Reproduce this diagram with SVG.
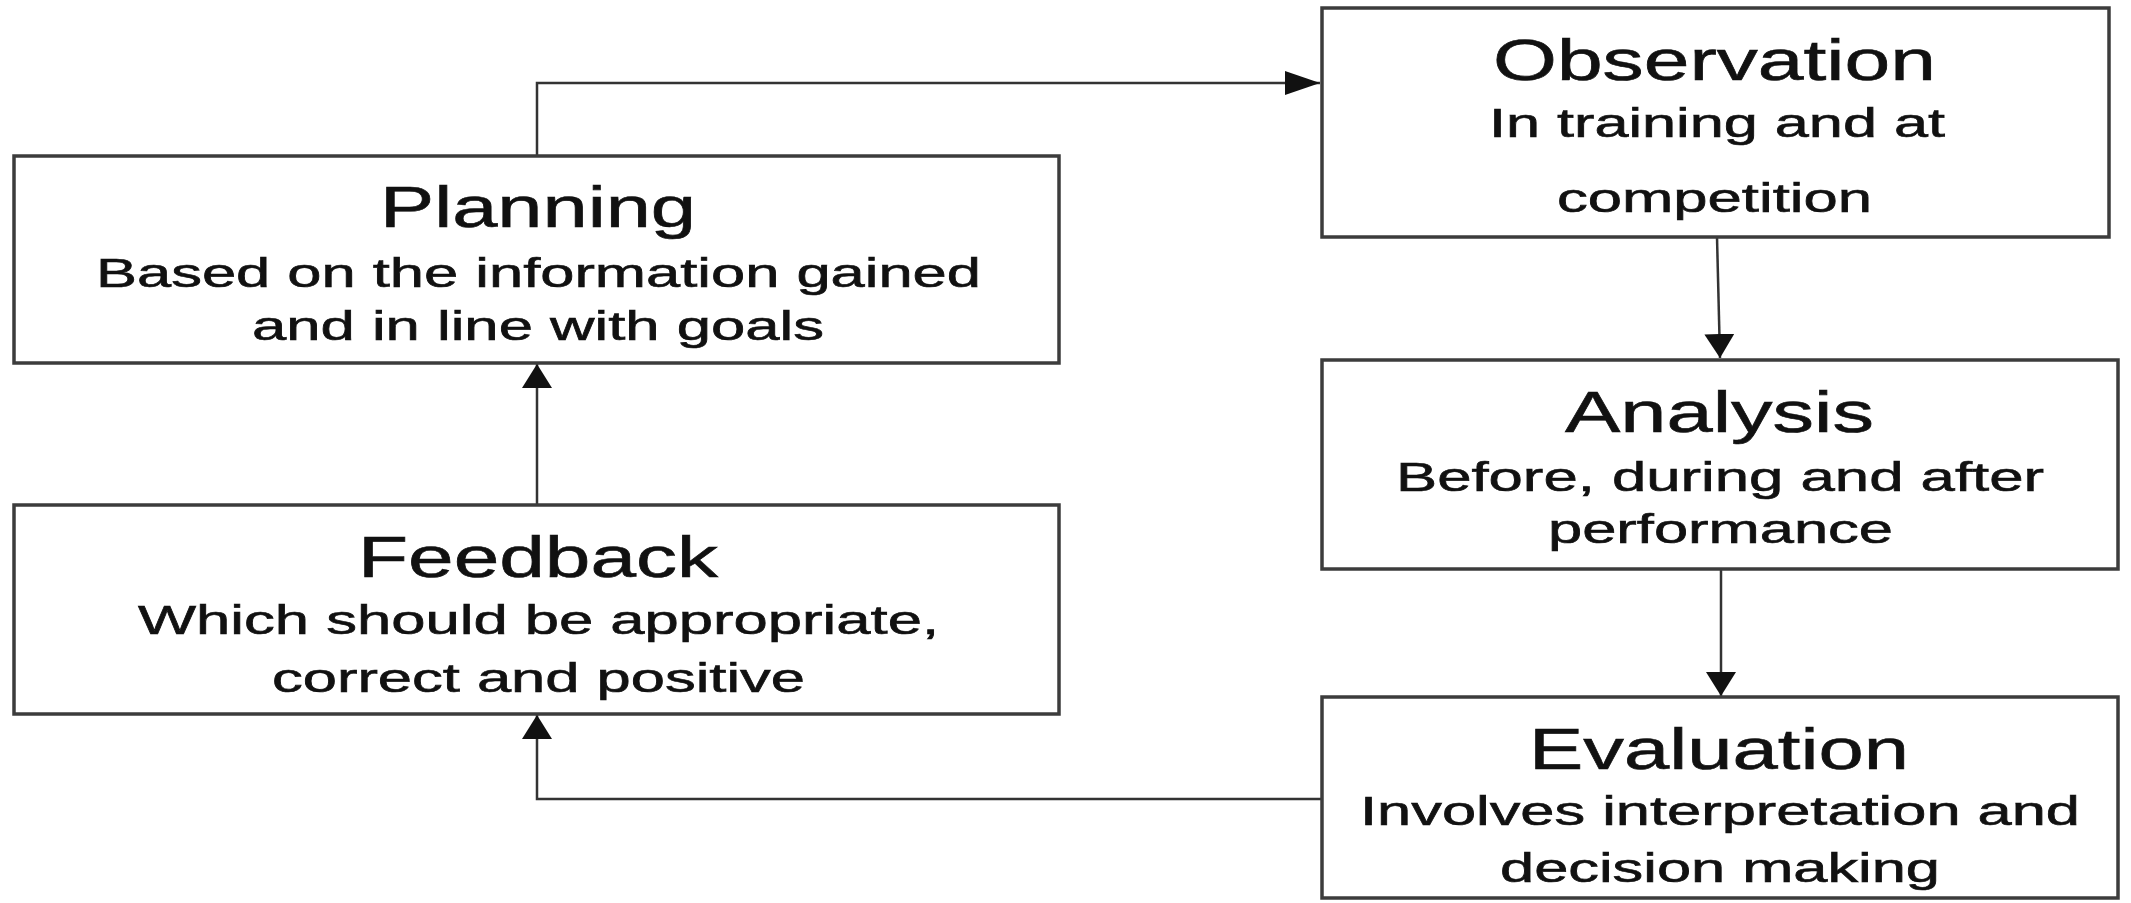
<svg xmlns="http://www.w3.org/2000/svg" width="2131" height="903" viewBox="0 0 2131 903">
  <style>
    .box { fill: #ffffff; stroke: #3c3c3c; stroke-width: 3.5; }
    .title { font-family: "Liberation Sans", Arial, sans-serif; font-size: 57px; fill: #111111; stroke: #111111; stroke-width: 0.6; }
    .sub { font-family: "Liberation Sans", Arial, sans-serif; font-size: 40px; fill: #111111; stroke: #111111; stroke-width: 0.6; }
    .link { fill: none; stroke: #333333; stroke-width: 2.5; }
  </style>
  <defs>
    <!-- long, narrow head for the horizontal arrow -->
    <marker id="headH" markerUnits="userSpaceOnUse" markerWidth="36" markerHeight="26" refX="35" refY="12" orient="auto">
      <path d="M0,0 L35,12 L0,24 Z" fill="#111111"/>
    </marker>
    <!-- short, wide head for the vertical arrows -->
    <marker id="headV" markerUnits="userSpaceOnUse" markerWidth="26" markerHeight="32" refX="24" refY="15" orient="auto">
      <path d="M0,0 L24,15 L0,30 Z" fill="#111111"/>
    </marker>
  </defs>

  <rect width="2131" height="903" fill="#ffffff"/>

  <g id="connectors">
    <path class="link" d="M537,156 L537,83 L1320,83" marker-end="url(#headH)"/>
    <path class="link" d="M1717,237 L1720,358" marker-end="url(#headV)"/>
    <path class="link" d="M1721,569 L1721,696" marker-end="url(#headV)"/>
    <path class="link" d="M1322,799 L537,799 L537,715" marker-end="url(#headV)"/>
    <path class="link" d="M537,505 L537,364" marker-end="url(#headV)"/>
  </g>

  <g id="planning">
    <rect class="box" x="14" y="156" width="1045" height="207"/>
    <text class="title" x="380" y="227" textLength="316" lengthAdjust="spacingAndGlyphs">Planning</text>
    <text class="sub" x="96" y="287" textLength="885" lengthAdjust="spacingAndGlyphs">Based on the information gained</text>
    <text class="sub" x="252" y="340" textLength="572" lengthAdjust="spacingAndGlyphs">and in line with goals</text>
  </g>

  <g id="observation">
    <rect class="box" x="1322" y="8" width="787" height="229"/>
    <text class="title" x="1493" y="80" textLength="443" lengthAdjust="spacingAndGlyphs">Observation</text>
    <text class="sub" x="1489" y="137" textLength="456" lengthAdjust="spacingAndGlyphs">In training and at</text>
    <text class="sub" x="1557" y="212" textLength="315" lengthAdjust="spacingAndGlyphs">competition</text>
  </g>

  <g id="analysis">
    <rect class="box" x="1322" y="360" width="796" height="209"/>
    <text class="title" x="1565" y="432" textLength="309" lengthAdjust="spacingAndGlyphs">Analysis</text>
    <text class="sub" x="1396" y="491" textLength="648" lengthAdjust="spacingAndGlyphs">Before, during and after</text>
    <text class="sub" x="1548" y="543" textLength="345" lengthAdjust="spacingAndGlyphs">performance</text>
  </g>

  <g id="evaluation">
    <rect class="box" x="1322" y="697" width="796" height="201"/>
    <text class="title" x="1529" y="769" textLength="380" lengthAdjust="spacingAndGlyphs">Evaluation</text>
    <text class="sub" x="1360" y="825" textLength="720" lengthAdjust="spacingAndGlyphs">Involves interpretation and</text>
    <text class="sub" x="1500" y="882" textLength="440" lengthAdjust="spacingAndGlyphs">decision making</text>
  </g>

  <g id="feedback">
    <rect class="box" x="14" y="505" width="1045" height="209"/>
    <text class="title" x="358" y="577" textLength="360" lengthAdjust="spacingAndGlyphs">Feedback</text>
    <text class="sub" x="138" y="634" textLength="801" lengthAdjust="spacingAndGlyphs">Which should be appropriate,</text>
    <text class="sub" x="272" y="692" textLength="533" lengthAdjust="spacingAndGlyphs">correct and positive</text>
  </g>
</svg>
